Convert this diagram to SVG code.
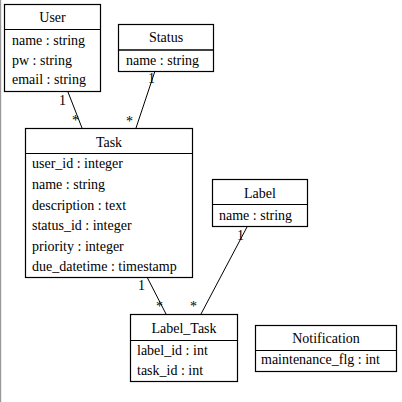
<svg xmlns="http://www.w3.org/2000/svg" width="402" height="402" viewBox="0 0 402 402">
<style>
.box{fill:#fff;stroke:#000;stroke-width:1.2}
.div{stroke:#000;stroke-width:1.2}
text{font-family:'Liberation Serif',Tinos,'Times New Roman','DejaVu Serif',serif;font-size:14px;fill:#000}
.c{text-anchor:middle}
.ln{stroke:#000;stroke-width:1;fill:none}
</style>
<rect x="0" y="0" width="402" height="402" fill="#fff"/>
<rect x="0" y="0" width="1.2" height="402" fill="#999"/>
<g id="connectors">
<line class="ln" x1="68" y1="92" x2="82" y2="128"/>
<line class="ln" x1="155" y1="71" x2="136" y2="128"/>
<line class="ln" x1="147" y1="277" x2="166" y2="314"/>
<line class="ln" x1="247" y1="227" x2="201" y2="314"/>
<text x="59" y="105">1</text>
<text x="72" y="125">*</text>
<text x="148" y="83">1</text>
<text x="126" y="126">*</text>
<text x="138" y="290">1</text>
<text x="156" y="311">*</text>
<text x="190" y="311">*</text>
<text x="237" y="240">1</text>
</g>
<g id="User">
<rect class="box" x="4.5" y="4.5" width="96" height="87"/>
<line class="div" x1="4.5" y1="29.5" x2="100.5" y2="29.5"/>
<text class="c" x="52.5" y="22">User</text>
<text x="12" y="45">name : string</text>
<text x="12" y="65">pw : string</text>
<text x="12" y="84">email : string</text>
</g>
<g id="Status">
<rect class="box" x="118.5" y="24.5" width="95" height="47"/>
<line class="div" x1="118.5" y1="50" x2="213.5" y2="50" style="stroke-width:1.6"/>
<text class="c" x="166" y="42">Status</text>
<text x="126" y="65">name : string</text>
</g>
<g id="Task">
<rect class="box" x="25.5" y="128.5" width="167" height="149"/>
<line class="div" x1="25.5" y1="153.5" x2="192.5" y2="153.5"/>
<text class="c" x="109" y="147">Task</text>
<text x="32" y="168">user_id : integer</text>
<text x="32" y="189">name : string</text>
<text x="32" y="209.5">description : text</text>
<text x="32" y="230">status_id : integer</text>
<text x="32" y="250.5">priority : integer</text>
<text x="32" y="271">due_datetime : timestamp</text>
</g>
<g id="Label">
<rect class="box" x="212.5" y="179.5" width="95" height="47"/>
<line class="div" x1="212.5" y1="204.5" x2="307.5" y2="204.5"/>
<text class="c" x="260" y="197.5">Label</text>
<text x="219" y="220">name : string</text>
</g>
<g id="Label_Task">
<rect class="box" x="130.5" y="314.5" width="107" height="67"/>
<line class="div" x1="130.5" y1="340.5" x2="237.5" y2="340.5"/>
<text class="c" x="184" y="333">Label_Task</text>
<text x="137" y="355">label_id : int</text>
<text x="137" y="375">task_id : int</text>
</g>
<g id="Notification">
<rect class="box" x="255.5" y="325.5" width="141" height="46"/>
<line class="div" x1="255.5" y1="350.5" x2="396.5" y2="350.5"/>
<text class="c" x="326" y="343">Notification</text>
<text x="261" y="364">maintenance_flg : int</text>
</g>
</svg>
